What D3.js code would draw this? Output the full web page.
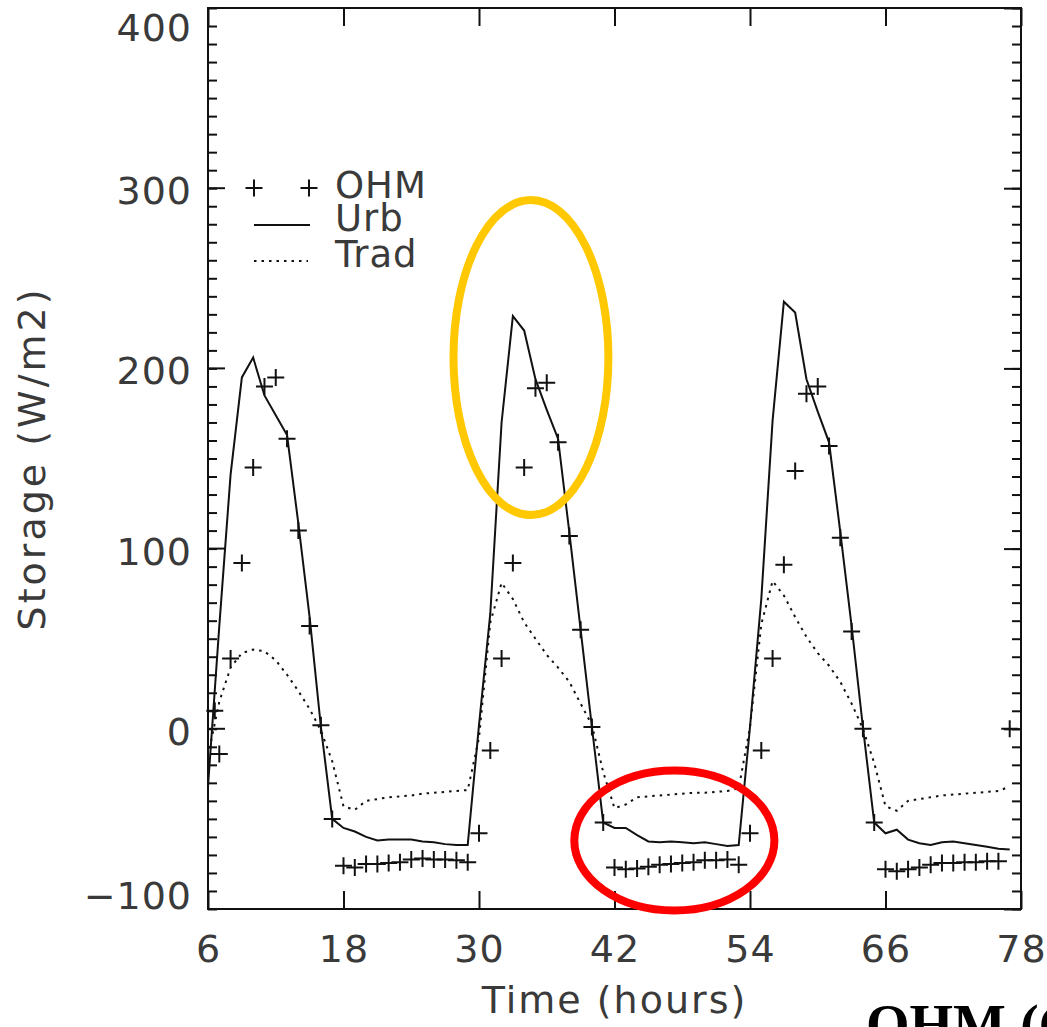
<!DOCTYPE html>
<html>
<head>
<meta charset="utf-8">
<script src="https://cdn.jsdelivr.net/npm/d3@7"></script>
<style>
  body { margin: 0; background: #fff; }
  text { font-family: "DejaVu Sans", sans-serif; fill: #3a3a3a; }
</style>
</head>
<body>
<script>
// hourly values
var hours = d3.range(6, 78);
var ohmHours = [6.6].concat(d3.range(7, 78));

var urb = [-32, 57, 141, 195, 206, 185, 174, 163, 114, 62, 1, -50,
	-55, -57, -60, -62, -61.5, -61.5, -61.5, -62.5, -63, -64, -64.5, -64.5,
	2, 64, 170, 229, 221, 194, 177, 161, 109, 55, 1, -52,
	-55, -55, -59, -62.5, -63, -62.5, -63, -63.5, -63, -64, -65, -64.5,
	1, 72, 171, 237, 231, 194, 176, 159, 109, 57, 1, -52,
	-58, -56, -61.5, -63.5, -64.5, -63, -62.5, -63.5, -64.5, -65.5, -66.5, -67];

var trad = [-15, 15, 34, 42, 44, 43, 38, 30, 21, 11, -1, -18,
	-43, -45, -40, -39, -38, -37.5, -37, -36, -35.5, -35, -34.5, -34,
	-5, 59, 81, 72, 59, 50, 41, 34, 26, 14, 2, -24,
	-44, -42, -38, -37.5, -37, -36.5, -36, -35.5, -35.5, -35, -34.5, -33,
	1, 58, 82, 74, 62, 51, 42, 35, 26, 14, 0, -19,
	-43, -45.5, -40, -39, -38, -37, -36.5, -36, -35.5, -35, -34.5, -32];

var ohm = [10, -14, 39, 92, 145, 190, 195, 161, 110, 57, 2, -50,
	-76, -77, -75, -75, -74.5, -74, -72.5, -72, -72.5, -72.5, -73, -74,
	-58, -12, 39, 92, 145, 189, 192, 159, 107, 55, 1, -52,
	-77, -78, -77.5, -76.5, -75.5, -75, -74.5, -74, -73, -73, -72.5, -75.5,
	-58, -12, 39, 91, 143, 186, 190, 157, 106, 54, 0, -52,
	-78, -79, -78, -77, -75.5, -74.5, -74.5, -74, -74, -73.5, -73.5, 0];

var xTicks = [6, 18, 30, 42, 54, 66, 78];
var yTicks = [-100, 0, 100, 200, 300, 400];
var yMinor = d3.range(-100, 401, 10);

var legendNames = ['OHM', 'Urb', 'Trad'];

// highlight ellipses: [centre hour, centre value, half-width hours, half-height value, colour]
var marks = [[34.6, 206, 6.86, 87.4, '#ffc800'], [47.3, -62, 8.86, 38.8, '#ff0000']];

// ---------------------------------------------------------------

var W = 1047, H = 1027;
var pLeft = 208, pRight = 1021, pTop = 8, pBottom = 909;

var svg = d3.select('body').append('svg').attr('width', W).attr('height', H);

var x = d3.scaleLinear().domain([6, 78]).range([pLeft, pRight]);
var y = d3.scaleLinear().domain([-100, 400]).range([pBottom, pTop]);

// axes, ticks pointing into the frame
function tickStyle(g) {
	g.select('.domain').remove();
	g.selectAll('line').attr('stroke', '#111').attr('stroke-width', 2);
}

svg.append('g').attr('transform', 'translate(' + pLeft + ',0)')
	.call(d3.axisLeft(y).tickValues(yMinor).tickSize(-9).tickSizeOuter(0).tickFormat(''))
	.call(tickStyle);
svg.append('g').attr('transform', 'translate(' + pRight + ',0)')
	.call(d3.axisRight(y).tickValues(yMinor).tickSize(-9).tickSizeOuter(0).tickFormat(''))
	.call(tickStyle);
svg.append('g').attr('transform', 'translate(' + pRight + ',0)')
	.call(d3.axisRight(y).tickValues(yTicks).tickSize(-17).tickSizeOuter(0).tickFormat(''))
	.call(tickStyle);

var yAxis = svg.append('g').attr('transform', 'translate(' + pLeft + ',0)')
	.call(d3.axisLeft(y).tickValues(yTicks).tickSize(-17).tickSizeOuter(0).tickPadding(16)
		.tickFormat(function(d) { return d < 0 ? '\u2212' + Math.abs(d) : d; }))
	.call(tickStyle);
// end labels are pushed inside the frame, as in the original plot
yAxis.selectAll('.tick').attr('transform', null);
yAxis.selectAll('.tick line').attr('y1', function(d) { return y(d); }).attr('y2', function(d) { return y(d); });
yAxis.selectAll('text')
	.attr('font-size', 38).attr('fill', '#3a3a3a').attr('font-family', 'DejaVu Sans')
	.attr('letter-spacing', 1)
	.attr('dy', null)
	.attr('y', function(d) {
		var p = y(d) + 3;
		return Math.min(Math.max(p, pTop + 20), pBottom - 13) + 13;
	});

var xAxis = svg.append('g').attr('transform', 'translate(0,' + pBottom + ')')
	.call(d3.axisBottom(x).tickValues(xTicks).tickSize(-18).tickSizeOuter(0).tickPadding(0))
	.call(tickStyle);
xAxis.selectAll('text')
	.attr('font-size', 38).attr('fill', '#3a3a3a').attr('font-family', 'DejaVu Sans')
	.attr('letter-spacing', 1)
	.attr('dy', null).attr('y', 53);

svg.append('g').attr('transform', 'translate(0,' + pTop + ')')
	.call(d3.axisTop(x).tickValues(xTicks).tickSize(-18).tickSizeOuter(0).tickFormat(''))
	.call(tickStyle);

svg.append('rect').attr('x', pLeft).attr('y', pTop)
	.attr('width', pRight - pLeft).attr('height', pBottom - pTop)
	.attr('fill', 'none').attr('stroke', '#111').attr('stroke-width', 2);

// axis titles
svg.append('text').attr('x', (pLeft + pRight) / 2).attr('y', 1013)
	.attr('text-anchor', 'middle').attr('font-size', 38).attr('letter-spacing', 2)
	.text('Time (hours)');
svg.append('text').attr('transform', 'translate(45,' + ((pTop + pBottom) / 2) + ') rotate(-90)')
	.attr('text-anchor', 'middle').attr('font-size', 38).attr('letter-spacing', 3)
	.text('Storage (W/m2)');

// series
var plot = svg.append('g');
var line = d3.line()
	.x(function(d) { return x(d[0]); })
	.y(function(d) { return y(d[1]); });

plot.append('path').datum(d3.zip(hours, trad))
	.attr('d', line).attr('fill', 'none').attr('stroke', '#111')
	.attr('stroke-width', 2).attr('stroke-dasharray', '2.5,5');

plot.append('path').datum(d3.zip(hours, urb))
	.attr('d', line).attr('fill', 'none').attr('stroke', '#111')
	.attr('stroke-width', 2);

var cross = 'M-8.5,0H8.5M0,-8.5V8.5';
plot.selectAll('.ohm').data(d3.zip(ohmHours, ohm)).enter().append('path')
	.attr('class', 'ohm')
	.attr('transform', function(d) { return 'translate(' + x(d[0]) + ',' + y(d[1]) + ')'; })
	.attr('d', cross).attr('stroke', '#111').attr('stroke-width', 2).attr('fill', 'none');

// legend
var lg = svg.append('g');
lg.append('path').attr('d', cross).attr('transform', 'translate(254,188)')
	.attr('stroke', '#111').attr('stroke-width', 2);
lg.append('path').attr('d', cross).attr('transform', 'translate(309,188)')
	.attr('stroke', '#111').attr('stroke-width', 2);
lg.append('line').attr('x1', 254).attr('x2', 310).attr('y1', 225).attr('y2', 225)
	.attr('stroke', '#111').attr('stroke-width', 2);
lg.append('line').attr('x1', 254).attr('x2', 308).attr('y1', 261).attr('y2', 261)
	.attr('stroke', '#111').attr('stroke-width', 2).attr('stroke-dasharray', '2.5,5');
lg.selectAll('text').data(legendNames).enter().append('text')
	.attr('x', 335)
	.attr('y', function(d, i) { return [198, 231, 267][i]; })
	.attr('font-size', 37).attr('letter-spacing', 1)
	.text(function(d) { return d; });

// highlight ellipses
svg.selectAll('.mark').data(marks).enter().append('ellipse')
	.attr('cx', function(d) { return x(d[0]); })
	.attr('cy', function(d) { return y(d[1]); })
	.attr('rx', function(d) { return x(d[0] + d[2]) - x(d[0]); })
	.attr('ry', function(d) { return y(d[1] - d[3]) - y(d[1]); })
	.attr('fill', 'none').attr('stroke', function(d) { return d[4]; })
	.attr('stroke-width', 8);

// caption fragment from the slide, cut off at the bottom edge
svg.append('text').attr('x', 866).attr('y', 1044)
	.attr('font-weight', 'bold').attr('font-size', 56)
	.style('font-family', '"Liberation Serif", serif').style('fill', '#000')
	.text('OHM (G');
</script>
</body>
</html>
